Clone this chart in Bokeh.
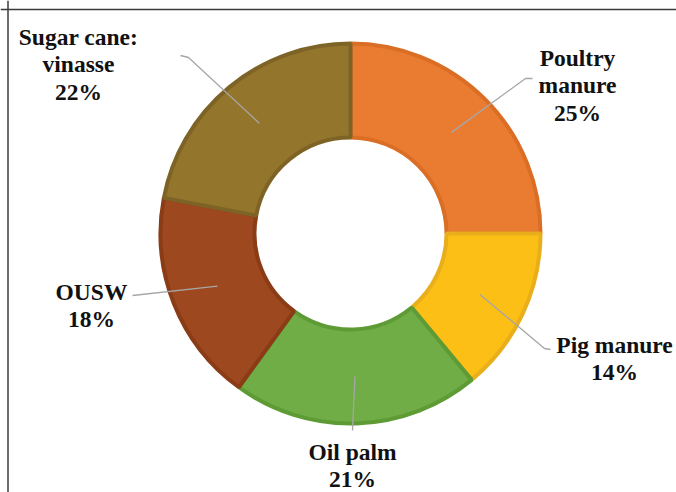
import math
from bokeh.plotting import figure
from bokeh.models import ColumnDataSource, Range1d, Span
from bokeh.core.properties import value
from bokeh.embed import file_html
from bokeh.resources import INLINE

# ---- data ----
categories = ["Poultry manure", "Pig manure", "Oil palm", "OUSW", "Sugar cane: vinasse"]
label_names = [["Poultry", "manure"], ["Pig manure"], ["Oil palm"], ["OUSW"], ["Sugar cane:", "vinasse"]]
shares = [25, 14, 21, 18, 22]

# ---- styles / layout (page pixels, converted below) ----
fills = ["#EA7C32", "#FCBF16", "#70AD47", "#9D481F", "#94752C"]
edges = ["#DA6E25", "#E9AE1C", "#5E9B35", "#8A3C16", "#7E6326"]
label_x = [577, 614, 352, 91, 78]
label_first_baseline = [57, 344, 451, 291, 36]
LINE_STEP = 27.5
elbows = [
    [(525, 78), (532, 78)],
    [(544, 348), (550, 349)],
    [(352, 430)],
    [(132, 295)],
    [(188, 57), (180, 55)],
]

CX, CY = 350, 233  # page coords of donut centre
W, H = 676, 492


def px(x):
    return x - CX


def py(y):
    return CY - y


total = sum(shares)
starts, ends, mids = [], [], []
acc = 0.0
for s in shares:
    a0 = math.pi / 2 - 2 * math.pi * acc / total
    acc += s
    a1 = math.pi / 2 - 2 * math.pi * acc / total
    starts.append(a0)
    ends.append(a1)
    mids.append((a0 + a1) / 2)

p = figure(width=W, height=H, output_backend="svg", toolbar_location=None,
           x_range=Range1d(px(0), px(W)), y_range=Range1d(py(H), py(0)),
           min_border=0)
p.axis.visible = False
p.grid.visible = False
p.outline_line_color = None
p.background_fill_color = "white"
p.border_fill_color = "white"

src = ColumnDataSource(dict(start=starts, end=ends, fill=fills, edge=edges, cat=categories, v=shares))
p.annular_wedge(x=0, y=0, inner_radius=96, outer_radius=190, start_angle="start", end_angle="end",
                direction="clock", fill_color="fill", line_color="edge", line_width=4,
                source=src)

# leader lines
xs, ys = [], []
r_lead = 143
for m, el in zip(mids, elbows):
    lx = [r_lead * math.cos(m)] + [px(e[0]) for e in el]
    ly = [r_lead * math.sin(m)] + [py(e[1]) for e in el]
    xs.append(lx)
    ys.append(ly)
p.multi_line(xs=xs, ys=ys, line_color="#A6A6A6", line_width=1.3)

# labels, one text per line
tx, ty, tt = [], [], []
for names, v, lx0, b0 in zip(label_names, shares, label_x, label_first_baseline):
    lines = names + [f"{v}%"]
    for i, line in enumerate(lines):
        tx.append(px(lx0))
        ty.append(py(b0 + i * LINE_STEP))
        tt.append(line)
lsrc = ColumnDataSource(dict(x=tx, y=ty, t=tt))
p.text(x="x", y="y", text="t", source=lsrc, text_font=value("Liberation Serif"),
       text_font_style="bold", text_font_size="23.5px", text_align="center",
       text_baseline="alphabetic", text_color="#111111")

# frame lines (top and left)
p.add_layout(Span(location=py(9), dimension="width", line_color="#3a3a3a", line_width=1.5))
p.add_layout(Span(location=px(7.5), dimension="height", line_color="#3a3a3a", line_width=1.5))

open("out.html", "w").write(file_html(p, INLINE))
